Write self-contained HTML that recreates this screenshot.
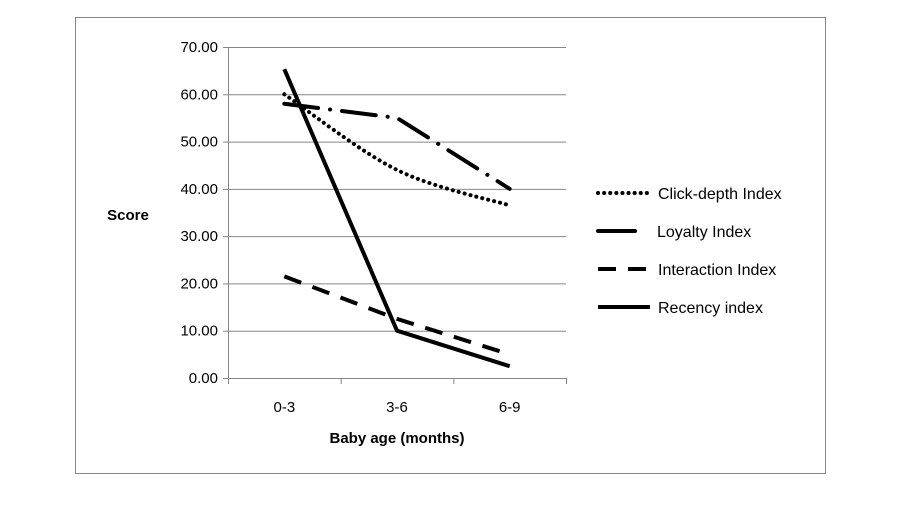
<!DOCTYPE html>
<html><head><meta charset="utf-8"><style>
body{margin:0;background:#fff;font-family:"Liberation Sans",Calibri,sans-serif}
</style></head><body>
<svg width="900" height="500" style="font-family:'Liberation Sans',sans-serif">
<rect x="75.5" y="17.5" width="750" height="456" fill="#fff" stroke="#868686"/>
<g id="grid"></g><g id="axes"></g><g id="series"></g><g id="legend"></g>
<text x="128" y="220" font-size="15" font-weight="bold" text-anchor="middle">Score</text>
<text x="397" y="443" font-size="15" font-weight="bold" text-anchor="middle">Baby age (months)</text>
</svg>
<script>
const categories=["0-3","3-6","6-9"];
const yTicks=[0,10,20,30,40,50,60,70];
const seriesNames=["Click-depth Index","Loyalty Index","Interaction Index","Recency index"];
const clickDepth=[60,44,36.5];
const loyalty=[58,55,40];
const interaction=[21.5,12.5,5];
const recency=[65.3,10,2.5];
const NS="http://www.w3.org/2000/svg";
const X0=228,X1=566,Y0=378,Y1=47;
const y=v=>Y0-(v/70)*(Y0-Y1);
const bw=(X1-X0)/categories.length;
const x=i=>X0+bw*(i+0.5);
function mk(t,a,p){const e=document.createElementNS(NS,t);for(const k in a)e.setAttribute(k,a[k]);p.appendChild(e);return e;}
const grid=document.getElementById('grid'),axes=document.getElementById('axes'),ser=document.getElementById('series'),leg=document.getElementById('legend');
yTicks.forEach(t=>{
 if(t>0){const l=mk('line',{x1:X0,x2:X1,y1:y(t)+.5,y2:y(t)+.5,stroke:'#868686'},grid);
 
 }
 const tk=mk('line',{x1:X0-5,x2:X0,y1:y(t)+.5,y2:y(t)+.5,stroke:'#868686'},axes);
 
 
 const tx=mk('text',{x:X0-10,y:y(t)+5,'font-size':15,'text-anchor':'end',fill:'#000'},axes);
 tx.textContent=t.toFixed(2);
 
 
});
const ya=mk('line',{x1:X0+.5,x2:X0+.5,y1:Y1,y2:Y0,stroke:'#868686'},axes);


const xa=mk('line',{x1:X0,x2:X1,y1:Y0+.5,y2:Y0+.5,stroke:'#868686'},axes);


for(let i=0;i<=categories.length;i++){const t=mk('line',{x1:X0+bw*i+.5,x2:X0+bw*i+.5,y1:Y0,y2:Y0+6,stroke:'#868686'},axes);
 
 }
categories.forEach((c,i)=>{const t=mk('text',{x:x(i),y:Y0+34,'font-size':15,'text-anchor':'middle'},axes);t.textContent=c;
 
 });
function smooth(p){let d=`M${p[0][0]},${p[0][1]}`;for(let i=0;i<p.length-1;i++){const p0=p[i-1]||p[i],p1=p[i],p2=p[i+1],p3=p[i+2]||p2;
 const c1=[p1[0]+(p2[0]-p0[0])/6,p1[1]+(p2[1]-p0[1])/6],c2=[p2[0]-(p3[0]-p1[0])/6,p2[1]-(p3[1]-p1[1])/6];
 d+=` C${c1[0]},${c1[1]} ${c2[0]},${c2[1]} ${p2[0]},${p2[1]}`;}return d;}
function straight(p){return 'M'+p.map(q=>q.join(',')).join(' L');}
const styles=[{d:'0.1 6',cap:'round',sm:true},{d:'34 12 0.1 12',cap:'round',sm:false},{d:'18 12',cap:'butt',sm:false},{d:'',cap:'butt',sm:false}];
const names=['series-click-depth','series-loyalty','series-interaction','series-recency'];
[clickDepth,loyalty,interaction,recency].forEach((vals,s)=>{
 const pts=vals.map((v,i)=>[x(i),y(v)]);const st=styles[s];
 const p=mk('path',{d:st.sm?smooth(pts):straight(pts),fill:'none',stroke:'#000','stroke-width':4,'stroke-dasharray':st.d,'stroke-linecap':st.cap,'stroke-linejoin':'round'},ser);
 
 
 const ly=193+s*38;
 const ll=mk('line',{x1:598,x2:s==1?635:650,y1:ly,y2:ly,stroke:'#000','stroke-width':4,'stroke-dasharray':s==1?'':st.d,'stroke-linecap':st.cap},leg);
 
 
 const lt=mk('text',{x:s==1?657:658,y:ly+6,'font-size':16},leg);lt.textContent=seriesNames[s];
 
 
});
</script>
</body></html>
